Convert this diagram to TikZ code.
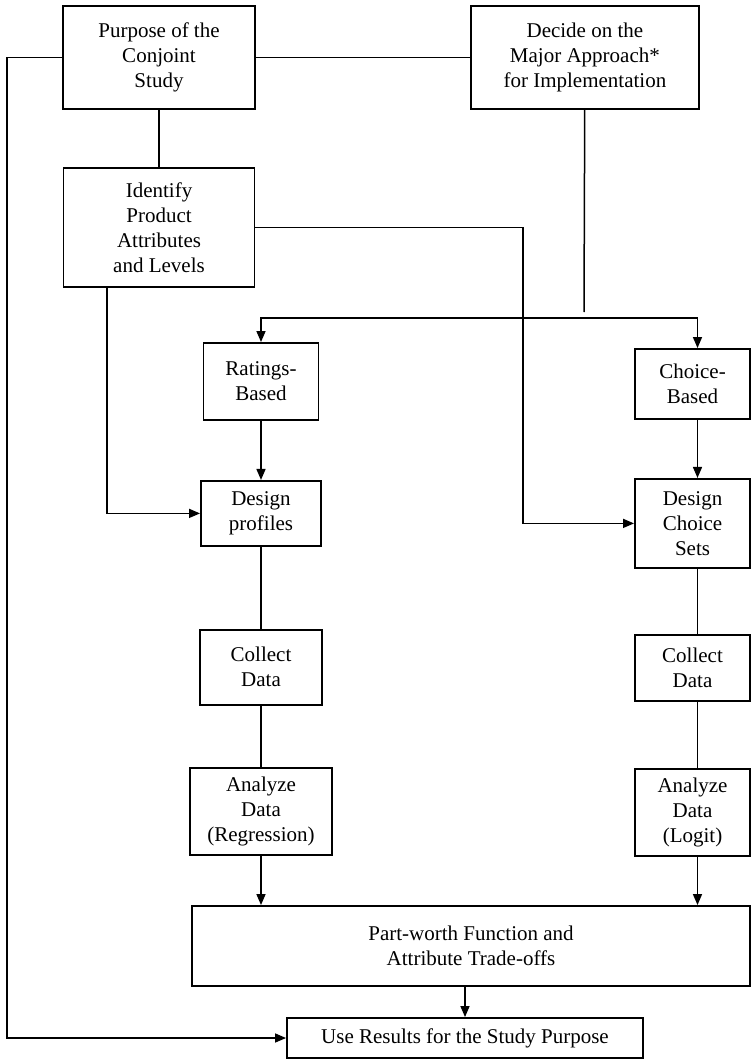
\documentclass[tikz,border=0pt]{standalone}
\usepackage{fontspec}
\setmainfont{Liberation Serif}
\usepackage{tikz}
\usetikzlibrary{positioning,arrows.meta}
\tikzset{
  >={Triangle[length=11pt,width=9pt]},
}

\begin{document}
\begin{tikzpicture}[
  x=1pt, y=-1pt,
  box/.style={draw, line width=1.9pt, inner sep=2pt, align=center,
    font=\fontsize{21}{25}\selectfont},
  arr/.style={->, line width=1.5pt},
  link/.style={line width=1.5pt}
]
  \useasboundingbox (0,0) rectangle (751,1059);

  % top row
  \node[box, minimum width=192pt, minimum height=103pt] (purpose) at (159,57.5)
    {Purpose of the\\Conjoint\\Study};
  \node[box, minimum width=228pt, minimum height=103pt, right=214pt of purpose] (decide)
    {Decide on the\\Major Approach*\\for Implementation};
  \node[box, minimum width=191pt, minimum height=119pt, below=57pt of purpose] (identify)
    {Identify\\Product\\Attributes\\and Levels};

  % ratings-based column
  \node[box, minimum width=115pt, minimum height=77pt] (ratings) at (261,381.5)
    {Ratings-\\Based};
  \node[box, minimum width=120pt, minimum height=65pt, below=59pt of ratings] (profiles)
    {Design\\profiles};
  \node[box, minimum width=122pt, minimum height=75pt, below=82pt of profiles] (collectL)
    {Collect\\Data};
  \node[box, minimum width=142pt, minimum height=87pt, below=61pt of collectL] (analyzeL)
    {Analyze\\Data\\(Regression)};

  % choice-based column
  \node[box, minimum width=115pt, minimum height=70pt] (choice) at (692.5,384)
    {Choice-\\Based};
  \node[box, minimum width=115pt, minimum height=89pt, below=58pt of choice] (choicesets)
    {Design\\Choice\\Sets};
  \node[box, minimum width=115pt, minimum height=66pt, below=65pt of choicesets] (collectR)
    {Collect\\Data};
  \node[box, minimum width=115pt, minimum height=87pt, below=66pt of collectR] (analyzeR)
    {Analyze\\Data\\(Logit)};

  % bottom
  \node[box, minimum width=558pt, minimum height=80pt] (partworth) at (471,946)
    {Part-worth Function and\\Attribute Trade-offs};
  \node[box, minimum width=356pt, minimum height=40pt] (use) at (465,1038)
    {Use Results for the Study Purpose};

  \coordinate (split) at (584,318);
  \coordinate (stop) at (584,312);
  \coordinate (jog) at (523,0);
  \coordinate (rail) at (7,0);

  \draw[link] (purpose) -- (decide);
  \draw[link] (purpose) -- (identify);
  \draw[link] (decide) -- (stop);
  \draw[arr] (split) -| (ratings);
  \draw[arr] (split) -| ([xshift=5pt]choice.north);
  \draw[arr] (ratings) -- (profiles);
  \draw[arr] ([xshift=5pt]choice.south) -- ([xshift=5pt]choicesets.north);
  \draw[arr] ([xshift=-52pt]identify.south) |- (profiles.west);
  \draw[arr] (identify.east) -| (jog |- choicesets.west) -- (choicesets.west);
  \draw[link] (profiles) -- (collectL) -- (analyzeL);
  \draw[link] ([xshift=5pt]choicesets.south) -- ([xshift=5pt]collectR.north);
  \draw[link] ([xshift=5pt]collectR.south) -- ([xshift=5pt]analyzeR.north);
  \draw[arr] (analyzeL) -- (analyzeL |- partworth.north);
  \draw[arr] ([xshift=5pt]analyzeR.south) -- ([xshift=5pt]analyzeR.south |- partworth.north);
  \draw[arr] (partworth.south -| use.north) -- (use);
  \draw[arr] (purpose.west) -| (rail |- use.west) -- (use.west);
\end{tikzpicture}
\end{document}
